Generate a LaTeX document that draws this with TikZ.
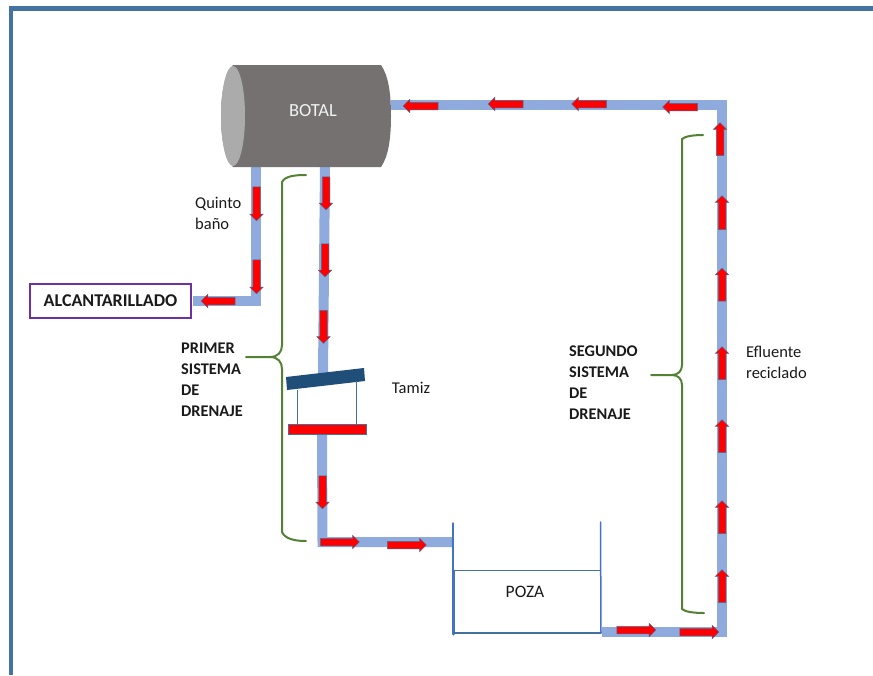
\documentclass[tikz,border=0pt]{standalone}
\usepackage{fontspec}
\setmainfont{Carlito}
\usetikzlibrary{shapes.arrows}
\definecolor{pipec}{HTML}{8FAADC}
\definecolor{framec}{HTML}{44739F}
\definecolor{tankc}{HTML}{767171}
\definecolor{lidc}{HTML}{ABABAB}
\definecolor{greenc}{HTML}{548235}
\definecolor{purplec}{HTML}{7030A0}
\definecolor{sievec}{HTML}{1F4E79}
\definecolor{pondc}{HTML}{4472C4}
\definecolor{edgec}{HTML}{41719C}
\definecolor{textc}{HTML}{1A1A1A}
\tikzset{
  pipe/.style={draw=pipec,line width=10pt,line cap=butt,line join=miter},
  flow/.style={single arrow,draw=edgec,line width=0.5pt,fill=red,inner xsep=0pt,inner ysep=3.5pt,
    single arrow head extend=3pt,single arrow tip angle=90},
  brace/.style={draw=greenc,line width=2pt,line cap=round},
  lbl/.style={font=\fontsize{16.5}{21}\selectfont,text=textc,inner sep=0pt,align=left},
  boldlbl/.style={lbl,font=\fontsize{16.3}{21}\selectfont\bfseries,anchor=north west},
  wall/.style={draw=pondc,line cap=round},
  thinline/.style={draw=edgec,line width=1pt}
}
\newcommand{\flowarrow}[4]{\node[flow,rotate=#3,minimum height=#4pt] at (#1,#2) {};}
\begin{document}
\begin{tikzpicture}[x=1pt,y=-1pt]
\useasboundingbox (0,0) rectangle (873,675);
\fill[white] (0,0) rectangle (873,675);
% frame
\draw[framec,line width=4.5pt] (11,675) -- (11,8.5) -- (873,8.5);

% named junctions
\coordinate (tankIn) at (391,105);
\coordinate (cornerTR) at (721.5,105);
\coordinate (cornerBR) at (721.5,631.5);
\coordinate (pondOut) at (602,631.5);
\coordinate (tankOutA) at (256,166);
\coordinate (cornerSewer) at (256,301);
\coordinate (tankOutB) at (325,166);
\coordinate (sieveIn) at (323,374);
\coordinate (trayOut) at (322,435);
\coordinate (cornerBL) at (322.5,542);
\coordinate (pondIn) at (453,542);

% pipes
\draw[pipe] (tankIn) -- (cornerTR) -- (cornerBR) -- (pondOut);
\draw[pipe] (tankOutA) -- (cornerSewer) -- (193,301);
\draw[pipe] (tankOutB) -- (sieveIn);
\draw[pipe] (trayOut) -- (cornerBL) -- (pondIn);

% tank
\path[fill=tankc] (233,65) -- (381,65) .. controls (388,75) and (391,92) .. (391,116)
  .. controls (391,140) and (388,157) .. (381,167) -- (233,167)
  .. controls (225,157) and (221,140) .. (221,116)
  .. controls (221,92) and (225,75) .. (233,65) -- cycle;
\fill[lidc] (233,116) ellipse [x radius=12,y radius=50];
\node[lbl,text=white!90!tankc,font=\fontsize{18.5}{21}\selectfont] (botal) at (313,110.5) {BOTAL};

% sewer
\node[draw=purplec,line width=2pt,minimum width=161pt,minimum height=34pt,inner sep=0pt,
  font=\fontsize{18}{20}\selectfont\bfseries,text=textc,fill=white] (sewer) at (110.5,300.5) {ALCANTARILLADO};

% sieve
\fill[sievec] (286,377) -- (364,368) -- (365,381) -- (287,390) -- cycle;
\draw[thinline] (297,390) -- (297,424);
\draw[thinline] (356,381) -- (356,424);
\node[draw=edgec,line width=1pt,fill=red,minimum width=78pt,minimum height=10.5pt,inner sep=0pt] (tray) at (327.5,429.5) {};

% pond
\draw[wall,line width=1.5pt] (453,523) -- (453,571);
\draw[wall,line width=3pt] (453,571) -- (453,634);
\draw[wall,line width=1.5pt] (600.5,522) -- (601,633);
\draw[thinline,draw=edgec] (454,570.5) -- (600,570.5);
\draw[thinline,draw=edgec,line width=1.5pt] (454,633) -- (601,633);
\node[lbl,font=\fontsize{17.5}{21}\selectfont] (poza) at (525,592) {POZA};

% flow arrows
\flowarrow{256.5}{202}{-90}{34}
\flowarrow{256.5}{275}{-90}{34}
\flowarrow{220}{301}{180}{34}
\flowarrow{326}{191.5}{-90}{33}
\flowarrow{325}{258.5}{-90}{33}
\flowarrow{323.5}{325}{-90}{33}
\flowarrow{322.5}{490.5}{-90}{33}
\flowarrow{338}{542}{0}{39}
\flowarrow{405}{545}{0}{39}
\flowarrow{422.5}{106}{180}{35}
\flowarrow{507.5}{104}{180}{35}
\flowarrow{591}{104}{180}{35}
\flowarrow{682}{107}{180}{35}
\flowarrow{720}{141}{90}{33}
\flowarrow{722}{214.5}{90}{34}
\flowarrow{722}{286.5}{90}{33}
\flowarrow{722}{365}{90}{33}
\flowarrow{722}{438}{90}{33}
\flowarrow{722}{519}{90}{33}
\flowarrow{722}{588}{90}{33}
\flowarrow{634.5}{630}{0}{39}
\flowarrow{697.5}{632}{0}{39}

% braces
\draw[brace] (306,175) .. controls (295,175) and (285,176) .. (282,182) -- (282,345)
  .. controls (282,352) and (278,357) .. (270,357) -- (246,357)
  (270,357) .. controls (278,357) and (282,362) .. (282,369) -- (282,532)
  .. controls (285,539) and (295,541) .. (306,541);
\draw[brace] (703,135) .. controls (695,135) and (685,136) .. (682,139) -- (682,365)
  .. controls (682,371) and (678,375) .. (672,375) -- (651,375)
  (672,375) .. controls (678,375) and (682,379) .. (682,385) -- (682,609)
  .. controls (685,612) and (695,613) .. (704,613);

% labels
\node[lbl,anchor=north west] (quinto) at (195,197) {Quinto\\[0pt]baño};
\node[lbl] (tamiz) at (411,388) {Tamiz};
\node[boldlbl] (primer) at (181,342.5) {PRIMER\\SISTEMA\\DE\\DRENAJE};
\node[boldlbl] (segundo) at (569,346) {SEGUNDO\\SISTEMA\\DE\\DRENAJE};
\node[lbl,anchor=north west] (efluente) at (746,346) {Efluente\\reciclado};
\end{tikzpicture}
\end{document}
